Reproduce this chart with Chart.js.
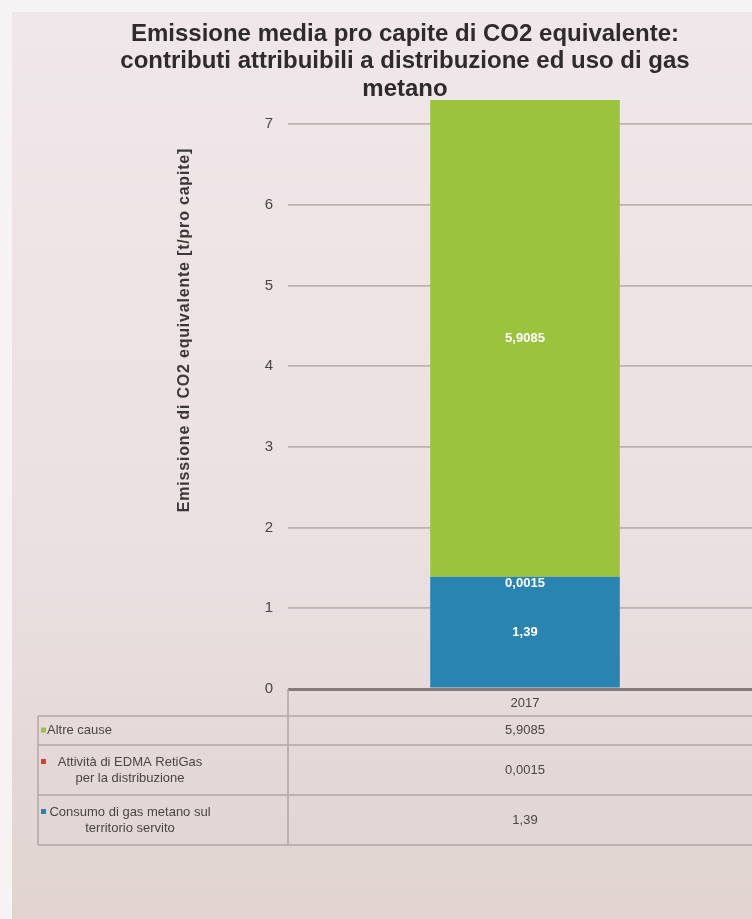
<!DOCTYPE html>
<html lang="it">
<head>
<meta charset="utf-8">
<title>Emissione media pro capite di CO2 equivalente</title>
<script src="https://cdn.jsdelivr.net/npm/chart.js@4.4.1/dist/chart.umd.min.js"></script>
<style>
  html, body { margin: 0; padding: 0; overflow: hidden; background: #f5f3f3; }
  #wrap { width: 762px; height: 919px; }
</style>
</head>
<body>
<div id="wrap"><canvas id="graficoEmissioni" width="762" height="919"></canvas></div>
<script>
// Dati: emissione di CO2 equivalente [t/pro capite], anno 2017
const anni = ['2017'];
const consumoGas = [1.39];        // Consumo di gas metano sul territorio servito
const attivitaEdma = [0.0015];    // Attività di EDMA RetiGas per la distribuzione
const altreCause = [5.9085];      // Altre cause
const tickAsseY = [0, 1, 2, 3, 4, 5, 6, 7];

const titolo = [
  'Emissione media pro capite di CO2 equivalente:',
  'contributi attribuibili a distribuzione ed uso di gas',
  'metano'
];
const titoloAsseY = 'Emissione di CO2 equivalente [t/pro capite]';

const verde = '#9cc33e';
const rosso = '#d8402e';
const blu = '#2a84b1';
const testo = '#4a4545';
const fontBase = "'Liberation Sans', Arial, sans-serif";

// numeri all'italiana: virgola decimale
const formatta = v => String(v).replace('.', ',');

// Sfondo: cartoncino rosato con bordo chiaro
const sfondo = {
  id: 'sfondo',
  beforeDraw(chart) {
    const { ctx, width, height } = chart;
    ctx.save();
    ctx.fillStyle = '#f5f3f3';
    ctx.fillRect(0, 0, width, height);
    const g = ctx.createLinearGradient(0, 12, 0, height);
    g.addColorStop(0, '#f0e7ea');
    g.addColorStop(0.6, '#ebe0e1');
    g.addColorStop(1, '#e0d3d0');
    ctx.fillStyle = g;
    ctx.fillRect(12, 12, width - 12, height - 12);
    ctx.restore();
  }
};

// Titolo e titolo dell'asse Y
const titoli = {
  id: 'titoli',
  afterDraw(chart) {
    const { ctx } = chart;
    ctx.save();
    ctx.fillStyle = '#2e2b2c';
    ctx.font = 'bold 24px ' + fontBase;
    ctx.textAlign = 'center';
    ctx.textBaseline = 'middle';
    titolo.forEach((riga, i) => ctx.fillText(riga, 405, 34 + i * 27.5));

    ctx.translate(185, 330);
    ctx.rotate(-Math.PI / 2);
    ctx.font = 'bold 16px ' + fontBase;
    ctx.fillStyle = '#3c3839';
    ctx.letterSpacing = '0.8px';
    ctx.fillText(titoloAsseY, 0, 0);
    ctx.restore();
  }
};

// Etichette dei valori dentro le barre
const etichette = {
  id: 'etichette',
  afterDatasetsDraw(chart) {
    const { ctx } = chart;
    ctx.save();
    ctx.font = 'bold 13px ' + fontBase;
    ctx.fillStyle = '#ffffff';
    ctx.textAlign = 'center';
    ctx.textBaseline = 'middle';
    chart.data.datasets.forEach((ds, i) => {
      chart.getDatasetMeta(i).data.forEach((bar, j) => {
        const alto = Math.abs(bar.base - bar.y);
        let y = (bar.y + bar.base) / 2;
        if (alto < 16) y += 7;
        ctx.fillText(formatta(ds.data[j]), bar.x, y);
      });
    });
    ctx.restore();
  }
};

// Tabella dati sotto il grafico
const tabella = {
  id: 'tabella',
  afterDraw(chart) {
    const { ctx, chartArea } = chart;
    const xs = chart.scales.x;
    const sx = 38, sep = chartArea.left, dx = chartArea.right;
    const y0 = chartArea.bottom;
    const righe = [
      { y: 716, h: 29, testo: ['Altre cause'], colore: verde, valore: altreCause[0], sinistra: true },
      { y: 745, h: 50, testo: ['Attività di EDMA RetiGas', 'per la distribuzione'], colore: rosso, valore: attivitaEdma[0] },
      { y: 795, h: 50, testo: ['Consumo di gas metano sul', 'territorio servito'], colore: blu, valore: consumoGas[0] }
    ];
    const fondo = 845;
    ctx.save();
    ctx.strokeStyle = '#b3a6a6';
    ctx.lineWidth = 1.5;
    ctx.beginPath();
    ctx.moveTo(sep, y0); ctx.lineTo(sep, fondo);
    ctx.moveTo(sx, righe[0].y); ctx.lineTo(sx, fondo);
    righe.forEach(r => { ctx.moveTo(sx, r.y); ctx.lineTo(dx, r.y); });
    ctx.moveTo(sx, fondo); ctx.lineTo(dx, fondo);
    ctx.stroke();

    ctx.fillStyle = testo;
    ctx.font = '13px ' + fontBase;
    ctx.textBaseline = 'middle';
    ctx.textAlign = 'center';
    anni.forEach((a, i) => ctx.fillText(a, xs.getPixelForValue(i), (y0 + righe[0].y) / 2 + 1));

    righe.forEach(r => {
      const cy = r.y + r.h / 2;
      const n = r.testo.length;
      r.testo.forEach((t, k) => {
        const ty = cy + (k - (n - 1) / 2) * 16;
        if (r.sinistra) {
          ctx.textAlign = 'left';
          ctx.fillText(t, 47, ty);
        } else {
          ctx.textAlign = 'center';
          ctx.fillText(t, 130, ty);
        }
      });
      // quadratino colorato della serie
      ctx.fillStyle = r.colore;
      const my = cy - (n - 1) * 8;
      ctx.fillRect(41, my - 3, 5, 5);
      ctx.fillStyle = testo;
      ctx.textAlign = 'center';
      ctx.fillText(formatta(r.valore), xs.getPixelForValue(0), cy);
    });
    ctx.restore();
  }
};

const ctx = document.getElementById('graficoEmissioni').getContext('2d');

const grafico = new Chart(ctx, {
  type: 'bar',
  data: {
    labels: anni,
    datasets: [
      { label: 'Consumo di gas metano sul territorio servito', data: consumoGas, backgroundColor: blu },
      { label: 'Attività di EDMA RetiGas per la distribuzione', data: attivitaEdma, backgroundColor: rosso },
      { label: 'Altre cause', data: altreCause, backgroundColor: verde }
    ]
  },
  options: {
    responsive: false,
    animation: false,
    devicePixelRatio: 1,
    layout: { padding: { top: 100, right: 0, bottom: 0, left: 0 } },
    datasets: { bar: { barPercentage: 0.4, categoryPercentage: 1 } },
    plugins: {
      legend: { display: false },
      tooltip: { enabled: false },
      title: { display: false }
    },
    scales: {
      x: {
        stacked: true,
        grid: { display: false },
        border: { display: false },
        ticks: { display: false },
        afterFit(scale) { scale.height = 919 - 689; }
      },
      y: {
        stacked: true,
        min: 0,
        max: 7.3,
        afterFit(scale) { scale.width = 288; },
        afterBuildTicks(scale) { scale.ticks = tickAsseY.map(v => ({ value: v })); },
        ticks: {
          includeBounds: false,
          padding: 15,
          color: testo,
          font: { size: 15, family: fontBase }
        },
        grid: {
          drawTicks: false,
          color: c => c.tick.value === 0 ? '#857b7b' : '#c0b1b3',
          lineWidth: c => c.tick.value === 0 ? 3 : 1.8
        },
        border: { display: false }
      }
    }
  },
  plugins: [sfondo, titoli, etichette, tabella]
});
</script>
</body>
</html>
